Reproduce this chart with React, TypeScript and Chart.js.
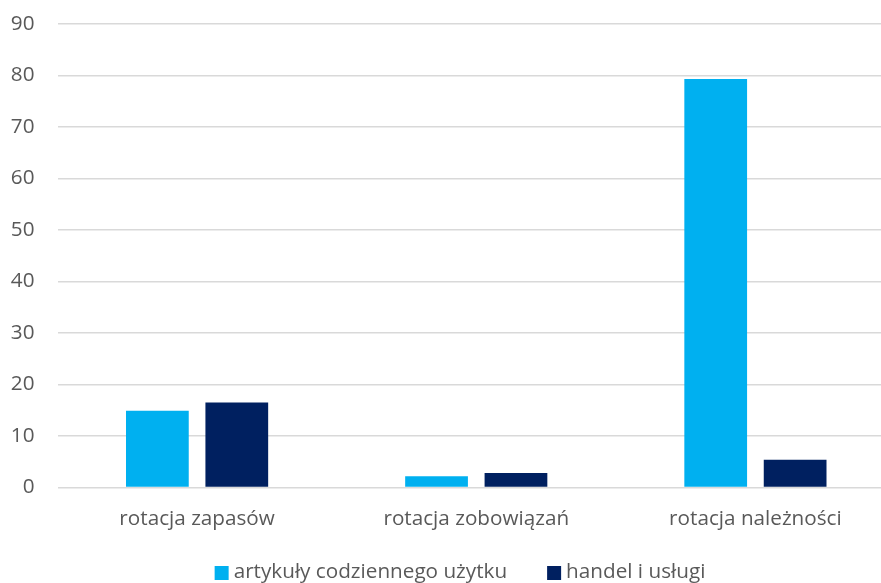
import React, { useEffect, useRef } from "react";
import { Chart, registerables } from "chart.js";

Chart.register(...registerables);

const categories = ["rotacja zapasów", "rotacja zobowiązań", "rotacja należności"];
const seriesNames = ["artykuły codziennego użytku", "handel i usługi"];
const consumerGoods = [14.9, 2.2, 79.3];
const tradeServices = [16.5, 2.8, 5.4];
const yTicks = [0, 10, 20, 30, 40, 50, 60, 70, 80, 90];

const COLORS = ["#00B0F0", "#002060"];
const TEXT = "#595959";
const FONT = "'Open Sans', sans-serif";
const FONT_SIZE = 20.7;

// Legend row drawn under the axis: square swatch + label, centred as a group.
const bottomLegend = {
  id: "bottomLegend",
  afterDraw(chart: any) {
    const ctx = chart.ctx as CanvasRenderingContext2D;
    const box = 14;
    const textGap = 5;
    const itemGap = 40;
    const centerX = 460;
    const centerY = 572;
    ctx.save();
    ctx.font = `${FONT_SIZE}px ${FONT}`;
    ctx.textBaseline = "middle";
    ctx.textAlign = "left";
    const items = chart.data.datasets.map((ds: any) => ({
      label: ds.label as string,
      color: ds.backgroundColor as string,
      w: ctx.measureText(ds.label).width,
    }));
    const total =
      items.reduce((s: number, it: any) => s + box + textGap + it.w, 0) +
      itemGap * (items.length - 1);
    let x = centerX - total / 2;
    for (const it of items) {
      ctx.fillStyle = it.color;
      ctx.fillRect(x, centerY - box / 2 + 1, box, box);
      x += box + textGap;
      ctx.fillStyle = TEXT;
      ctx.fillText(it.label, x, centerY);
      x += it.w + itemGap;
    }
    ctx.restore();
  },
};

export default function App() {
  const ref = useRef<HTMLCanvasElement | null>(null);

  useEffect(() => {
    if (!ref.current) return;
    const chart = new Chart(ref.current, {
      type: "bar",
      data: {
        labels: categories,
        datasets: [
          { label: seriesNames[0], data: consumerGoods, backgroundColor: COLORS[0] },
          { label: seriesNames[1], data: tradeServices, backgroundColor: COLORS[1] },
        ],
      },
      options: {
        responsive: false,
        animation: false,
        maintainAspectRatio: false,
        layout: { padding: { top: 24, bottom: 45.5, left: 0, right: 0 } },
        datasets: { bar: { categoryPercentage: 0.569, barPercentage: 0.79 } },
        plugins: {
          tooltip: { enabled: false },
          legend: { display: false },
        },
        scales: {
          x: {
            grid: { display: false, drawTicks: false },
            border: { display: false },
            ticks: { color: TEXT, font: { family: FONT, size: FONT_SIZE }, padding: 19 },
            afterFit: (s: any) => {
              s.height = 50;
              s.paddingLeft = 0;
              s.paddingRight = 0;
            },
          },
          y: {
            min: 0,
            max: 90,
            afterBuildTicks: (s: any) => {
              s.ticks = yTicks.map((v) => ({ value: v }));
            },
            grid: { color: "#D9D9D9", lineWidth: 1.5, drawTicks: false },
            border: { display: false },
            ticks: { color: TEXT, font: { family: FONT, size: FONT_SIZE }, padding: 23 },
            afterFit: (s: any) => {
              s.width = 57.5;
              s.paddingTop = 0;
              s.paddingBottom = 0;
            },
          },
        },
      },
      plugins: [bottomLegend],
    });
    return () => chart.destroy();
  }, []);

  return (
    <div
      style={{
        position: "fixed",
        left: 0,
        top: 0,
        width: 881,
        height: 583,
        overflow: "hidden",
        background: "#fff",
      }}
    >
      <canvas ref={ref} width={895} height={583} style={{ display: "block" }} />
    </div>
  );
}
